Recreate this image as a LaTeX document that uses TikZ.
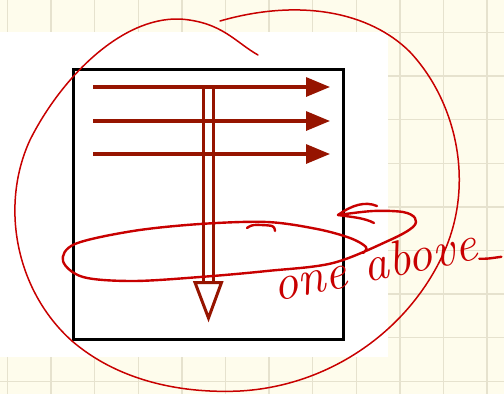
\documentclass[tikz,border=0pt]{standalone}
\usetikzlibrary{arrows.meta}
\definecolor{paper}{HTML}{FEFCEC}
\definecolor{gridc}{HTML}{E6E2CE}
\definecolor{arrred}{HTML}{961400}
\definecolor{handred}{HTML}{C80000}
\tikzset{
  gridline/.style={gridc, line width=1.3pt},
  framebox/.style={draw=black, line width=3.4pt},
  flowarrow/.style={arrred, line width=3.2pt, -{Triangle[length=24pt,width=19pt]}},
  hollowline/.style={arrred, line width=3pt},
  ink/.style={handred, line width=2.4pt, line cap=round, line join=round},
  thinink/.style={handred, line width=1.5pt, line cap=round, line join=round},
  handtext/.style={handred, font=\fontsize{50}{50}\selectfont\itshape, inner sep=0pt}
}
\begin{document}
\begin{tikzpicture}[x=1pt,y=-1pt]
\useasboundingbox (0,0) rectangle (504,394);
\fill[paper] (0,0) rectangle (504,394);
% grid
\foreach \i in {0,...,11} \draw[gridline] ({7.5+43.6*\i},0) -- ({7.5+43.6*\i},394);
\foreach \j in {0,...,8} \draw[gridline] (0,{32.5+43.6*\j}) -- (504,{32.5+43.6*\j});
% white sheet
\fill[white] (0,32) rectangle (388,357);
% frame
\draw[framebox] (73.5,69.5) rectangle (343.5,339.5);
% horizontal arrows
\coordinate (a1s) at (93,87);   \coordinate (a1e) at (330,87);
\coordinate (a2s) at (93,121);  \coordinate (a2e) at (330,121);
\coordinate (a3s) at (93,154);  \coordinate (a3e) at (330,154);
\draw[flowarrow] (a1s) -- (a1e);
\draw[flowarrow] (a2s) -- (a2e);
\draw[flowarrow] (a3s) -- (a3e);
% hollow vertical arrow
\coordinate (vl) at (203.5,87);
\coordinate (vr) at (213,87);
\draw[hollowline] (vl) -- (203.5,282);
\draw[hollowline] (vr) -- (213,282);
\draw[hollowline, line join=miter] (195,282.5) -- (221.5,282.5) -- (208.5,318) -- cycle;
% big hand loop
\draw[thinink] (258,55) .. controls (235,42) and (222,22) .. (180,19)
  .. controls (120,17) and (60,80) .. (30,140)
  .. controls (0,205) and (15,290) .. (72,341)
  .. controls (115,378) and (175,394) .. (240,391)
  .. controls (330,386) and (410,330) .. (445,250)
  .. controls (475,180) and (455,100) .. (410,52)
  .. controls (370,12) and (300,-2) .. (220,21);
% ellipse with return loop
\draw[ink] plot[smooth, tension=0.55] coordinates {
 (363,253) (366,247) (350,238) (317,229) (267,222) (200,224) (133,231) (75,244)
 (63,261) (83,277) (133,281) (200,277) (267,271) (333,263) (390,240) (413,227)
 (415,218) (403,212) (373,211) (338,215)};
\draw[ink] (338,215) .. controls (352,205) and (365,201) .. (377,206);
\draw[ink] (338,215) .. controls (352,217) and (365,218) .. (374,223);
% small mark
\draw[ink] plot[smooth] coordinates {(247,228) (254,225) (272,226) (275,231)};
% handwritten text
\node[handtext, rotate=12, anchor=base west] (txt) at (276,302) {one above};
\draw[ink] (txt.base east) .. controls +(8,0) .. +(22,-2);
\end{tikzpicture}
\end{document}
